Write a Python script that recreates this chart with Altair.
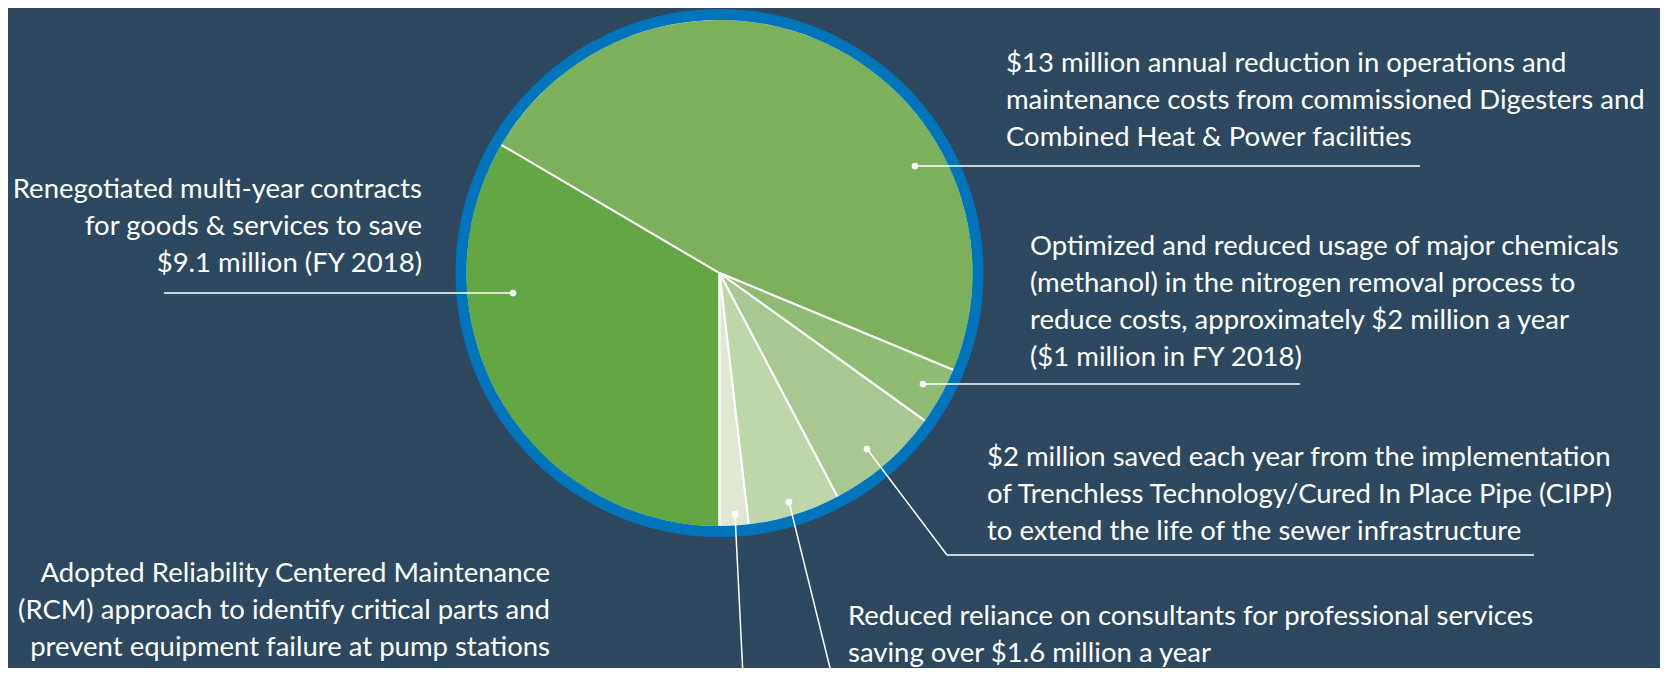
import math
import altair as alt
import pandas as pd

# ---- data -----------------------------------------------------------------
labels = [
    "Renegotiated contracts",
    "Digesters & CHP",
    "Methanol",
    "CIPP",
    "Consultants",
    "RCM",
]
values = [9.1, 13.0, 1.0, 2.0, 1.6, 0.5]  # $ million
colors = ["#62a744", "#7cb05a", "#90bb72", "#a9c891", "#bed6ab", "#dfe7d3"]

texts = [
    "Renegotiated multi-year contracts\nfor goods & services to save\n$9.1 million (FY 2018)",
    "$13 million annual reduction in operations and\nmaintenance costs from commissioned Digesters and\nCombined Heat & Power facilities",
    "Optimized and reduced usage of major chemicals\n(methanol) in the nitrogen removal process to\nreduce costs, approximately $2 million a year\n($1 million in FY 2018)",
    "$2 million saved each year from the implementation\nof  Trenchless Technology/Cured In Place Pipe (CIPP)\nto extend the life of the sewer infrastructure",
    "Reduced reliance on consultants for professional services\nsaving over $1.6 million a year",
    "Adopted Reliability Centered Maintenance\n(RCM) approach to identify critical parts and\nprevent equipment failure at pump stations",
]

# ---- layout (pixels) -------------------------------------------------------
W, H = 1652, 660
CX, CY = 711.5, 265
R_PIE, R_RING = 254, 264
BG = "#2e4860"
RING = "#0075bc"
FONT = "Lato"
FS = 27.5
LH = 37

text_x = [414, 998, 1022, 979, 840, 542]
text_y = [182, 56, 239, 450, 609, 566]  # centre of first line
text_align = ["right", "left", "left", "left", "left", "right"]

# leader segments: (x, y, x2, y2)
seg_x = [505, 907, 915, 859, 939, 781, 727]
seg_y = [285, 158, 376, 441, 547, 494, 506]
seg_x2 = [156, 1412, 1292, 939, 1526, 824, 735]
seg_y2 = [285, 158, 376, 547, 547, 668, 668]
dot_x = [505, 907, 915, 859, 781, 727]
dot_y = [285, 158, 376, 441, 494, 506]

# ---- charts ----------------------------------------------------------------
pie_df = pd.DataFrame({"label": labels, "value": values, "order": list(range(len(labels)))})

pie = alt.Chart(pie_df).mark_arc(radius=R_PIE, stroke="white", strokeWidth=2).encode(
    theta=alt.Theta("value:Q", stack=True, scale=alt.Scale(range=[math.pi, 3 * math.pi])),
    color=alt.Color("label:N", scale=alt.Scale(domain=labels, range=colors), legend=None),
    order=alt.Order("order:Q"),
    x=alt.value(CX),
    y=alt.value(CY),
)

ring = alt.Chart(pd.DataFrame({"v": [1]})).mark_arc(
    radius=R_RING, radius2=R_PIE - 1, color=RING, theta=0, theta2=2 * math.pi
).encode(x=alt.value(CX), y=alt.value(CY))

seg_df = pd.DataFrame({"x": seg_x, "y": seg_y, "x2": seg_x2, "y2": seg_y2})
leaders = alt.Chart(seg_df).mark_rule(color="white", strokeWidth=1.5).encode(
    x=alt.X("x:Q", scale=None, axis=None),
    y=alt.Y("y:Q", scale=None, axis=None),
    x2="x2:Q",
    y2="y2:Q",
)

dot_df = pd.DataFrame({"x": dot_x, "y": dot_y})
dots = alt.Chart(dot_df).mark_circle(color="white", opacity=1, size=45).encode(
    x=alt.X("x:Q", scale=None, axis=None),
    y=alt.Y("y:Q", scale=None, axis=None),
)

txt_df = pd.DataFrame({"text": texts, "x": text_x, "y": text_y, "align": text_align})


def text_layer(al):
    return alt.Chart(txt_df).transform_filter(alt.datum.align == al).mark_text(
        align=al,
        baseline="middle",
        font=FONT,
        fontSize=FS,
        lineHeight=LH,
        lineBreak="\n",
        color="#ffffff",
    ).encode(
        x=alt.X("x:Q", scale=None, axis=None),
        y=alt.Y("y:Q", scale=None, axis=None),
        text="text:N",
    )


chart = (
    alt.layer(pie, ring, leaders, dots, text_layer("left"), text_layer("right"))
    .properties(width=W, height=H, padding=0, autosize=alt.AutoSizeParams(type="none"), background=BG)
    .configure_view(strokeWidth=0)
)

chart.save("out.html", embed_options={"renderer": "svg", "actions": False})
